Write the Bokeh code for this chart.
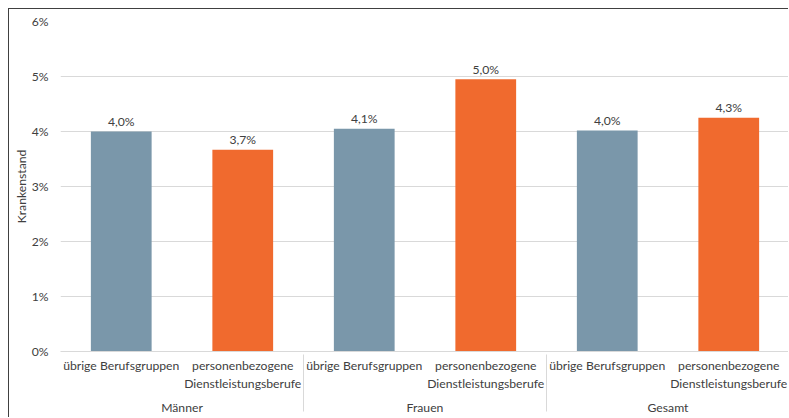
from bokeh.plotting import figure
from bokeh.models import (ColumnDataSource, FactorRange, Range1d, FixedTicker,
                          PrintfTickFormatter)
from bokeh.core.properties import value
from bokeh.embed import file_html
from bokeh.resources import INLINE

# ---- data ----
groups = ["Männer", "Frauen", "Gesamt"]
occupations = ["übrige Berufsgruppen", "personenbezogene\nDienstleistungsberufe"]
krankenstand = [4.0, 3.67, 4.05, 4.95, 4.02, 4.25]
value_labels = ["4,0%", "3,7%", "4,1%", "5,0%", "4,0%", "4,3%"]
y_ticks = [0, 1, 2, 3, 4, 5, 6]
occupation_colors = ["#7A97AA", "#F06A2E"]

FONT = "Lato"
FS = "12.2px"
TXT = "#404040"
GRID = "#D9D9D9"

factors = [(g, o) for g in groups for o in occupations]
bar_colors = [occupation_colors[occupations.index(o)] for _, o in factors]
source = ColumnDataSource(dict(x=factors, top=krankenstand, label=value_labels, color=bar_colors))

p = figure(
    x_range=FactorRange(*factors, factor_padding=0, group_padding=0, range_padding=0),
    y_range=Range1d(0, 6),
    width=780, height=409,
    output_backend="svg", toolbar_location=None,
    min_border_left=51, min_border_right=0, min_border_top=12, min_border_bottom=67,
)
p.styles = {"margin-left": "8px", "margin-top": "8px",
            "border-top": "1px solid #404040", "border-left": "1px solid #404040"}
p.outline_line_color = None

p.vbar(x="x", top="top", width=0.5, fill_color="color", line_color=None, source=source)
p.text(x="x", y="top", text="label", source=source, text_align="center",
       text_baseline="alphabetic", y_offset=-10, text_font=value(FONT),
       text_font_size=FS, text_color=TXT)

# y axis
ya = p.yaxis[0]
ya.ticker = FixedTicker(ticks=y_ticks)
ya.formatter = PrintfTickFormatter(format="%d%%")
ya.axis_label = "Krankenstand"
ya.axis_label_text_font = FONT
ya.axis_label_text_font_size = FS
ya.axis_label_text_font_style = "normal"
ya.axis_label_text_color = TXT
ya.axis_label_standoff = 0
ya.major_label_text_font = FONT
ya.major_label_text_font_size = FS
ya.major_label_text_color = TXT
ya.major_label_standoff = 12
ya.axis_line_color = None
ya.major_tick_line_color = None
ya.minor_tick_line_color = None
ya.major_tick_out = 0
ya.major_tick_in = 0

# x axis (nested categories with group separators)
xa = p.xaxis[0]
xa.major_label_text_font = FONT
xa.major_label_text_font_size = FS
xa.major_label_text_color = TXT
xa.major_label_standoff = 6
xa.group_text_font = FONT
xa.group_text_font_size = FS
xa.group_text_font_style = "normal"
xa.group_text_color = TXT
xa.separator_line_color = GRID
xa.separator_line_width = 1
xa.axis_line_color = GRID
xa.major_tick_line_color = None
xa.minor_tick_line_color = None
xa.major_tick_out = 0
xa.major_tick_in = 0

p.xgrid.grid_line_color = None
p.ygrid.grid_line_color = GRID
p.ygrid.ticker = FixedTicker(ticks=y_ticks)

open("out.html", "w").write(file_html(p, INLINE))
